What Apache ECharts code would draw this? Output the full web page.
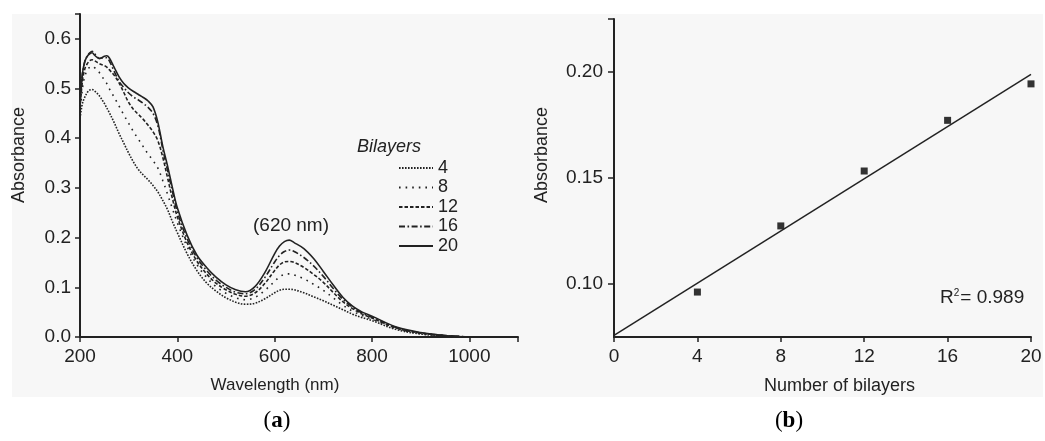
<!DOCTYPE html>
<html>
<head>
<meta charset="utf-8">
<script src="https://cdn.jsdelivr.net/npm/echarts@6/dist/echarts.min.js"></script>
<style>html,body{margin:0;padding:0;background:#fff}#c{width:1045px;height:441px}</style>
</head>
<body>
<div id="c"></div>
<script>
// ---------- Data ----------
const wavelength = [200,205,210,215,220,225,230,240,250,255,260,270,280,290,300,310,320,330,340,350,360,370,380,390,400,420,440,460,480,500,520,540,560,580,600,610,620,630,640,660,680,700,720,740,760,780,800,850,900,950,1000];
const abs4  = [0.44,0.47,0.483,0.492,0.497,0.498,0.495,0.485,0.47,0.461,0.452,0.432,0.41,0.39,0.37,0.352,0.337,0.326,0.316,0.305,0.292,0.275,0.256,0.232,0.21,0.168,0.134,0.109,0.092,0.079,0.07,0.066,0.068,0.077,0.089,0.094,0.096,0.096,0.095,0.089,0.081,0.073,0.064,0.055,0.046,0.039,0.033,0.015,0.006,0.002,0.0];
const abs8  = [0.45,0.5,0.525,0.537,0.543,0.545,0.542,0.532,0.517,0.51,0.5,0.483,0.465,0.447,0.43,0.413,0.398,0.383,0.368,0.355,0.34,0.315,0.287,0.258,0.23,0.182,0.146,0.12,0.101,0.088,0.079,0.075,0.08,0.094,0.112,0.121,0.126,0.127,0.125,0.117,0.106,0.094,0.079,0.064,0.052,0.043,0.036,0.017,0.007,0.002,0.0];
const abs12 = [0.46,0.515,0.54,0.55,0.556,0.558,0.556,0.55,0.546,0.543,0.538,0.527,0.512,0.492,0.472,0.458,0.448,0.438,0.426,0.413,0.395,0.362,0.32,0.278,0.242,0.19,0.153,0.127,0.108,0.095,0.086,0.082,0.089,0.108,0.134,0.145,0.151,0.152,0.15,0.14,0.126,0.11,0.09,0.071,0.057,0.046,0.038,0.018,0.008,0.003,0.0];
const abs16 = [0.47,0.53,0.555,0.566,0.572,0.575,0.57,0.561,0.562,0.562,0.556,0.535,0.515,0.502,0.491,0.483,0.477,0.47,0.462,0.45,0.425,0.378,0.335,0.292,0.252,0.198,0.16,0.134,0.114,0.1,0.09,0.087,0.096,0.12,0.151,0.164,0.172,0.175,0.172,0.16,0.143,0.122,0.098,0.076,0.06,0.048,0.04,0.019,0.008,0.003,0.0];
const abs20 = [0.47,0.53,0.555,0.565,0.57,0.572,0.567,0.56,0.565,0.566,0.562,0.543,0.524,0.51,0.501,0.494,0.488,0.482,0.475,0.463,0.432,0.384,0.344,0.3,0.26,0.205,0.165,0.14,0.12,0.105,0.095,0.091,0.102,0.13,0.168,0.183,0.192,0.195,0.19,0.178,0.158,0.132,0.105,0.08,0.062,0.05,0.042,0.02,0.009,0.003,0.0];
const bilayerNames = ['4','8','12','16','20'];

const bilayers = [4,8,12,16,20];
const peakAbs = [0.0962,0.1274,0.1533,0.1772,0.1944];
const fitX = [0,20];
const fitY = [0.0758,0.1989];

const leftXTicks = [200,400,600,800,1000];
const leftYTicks = [0,0.1,0.2,0.3,0.4,0.5,0.6];
const rightYTicks = [0.10,0.15,0.20];

// ---------- Chart ----------
const FONT = 'Liberation Sans, Arial, sans-serif';
const INK = '#222';
const chart = echarts.init(document.getElementById('c'), null, {renderer:'canvas'});
const spectra = [abs4,abs8,abs12,abs16,abs20];
const dashes = [[1.6,1.4],[1.6,5],[3.5,2],[6,2.5,1.6,2.5],'solid'];

function zip(xs, ys){ return xs.map((x,i)=>[x,ys[i]]); }

const axisLine = {show:true, onZero:false, lineStyle:{color:INK, width:2}};
const labelStyle = {color:INK, fontFamily:FONT, fontSize:19};

const series = spectra.map((arr,i)=>({
  name: bilayerNames[i], type:'line', xAxisIndex:0, yAxisIndex:0,
  data: zip(wavelength, arr), showSymbol:false, symbol:'none', smooth:0.35,
  lineStyle:{color:INK, width:1.6, type:dashes[i]}, itemStyle:{color:INK},
  silent:true, animation:false
}));
series.push({
  type:'scatter', xAxisIndex:1, yAxisIndex:1, data: zip(bilayers, peakAbs),
  symbol:'rect', symbolSize:7, itemStyle:{color:'#000'}, animation:false, silent:true
});
series.push({
  type:'line', xAxisIndex:1, yAxisIndex:1, data: zip(fitX, fitY), showSymbol:false, symbol:'none',
  lineStyle:{color:INK, width:1.5}, animation:false, silent:true
});

chart.setOption({
  backgroundColor:'#ffffff',
  animation:false,
  grid:[
    {left:80, top:14, width:438, height:323},
    {left:614, top:19, width:417, height:318}
  ],
  legend:{
    data: bilayerNames, orient:'vertical', left:393, top:154,
    itemWidth:34, itemHeight:10, itemGap:1.5,
    itemStyle:{opacity:0},
    textStyle:{color:INK, fontFamily:FONT, fontSize:18, lineHeight:18},
    selectedMode:false
  },
  xAxis:[
    {type:'value', gridIndex:0, min:200, max:1100,
     axisLine:axisLine, splitLine:{show:false},
     axisTick:{show:true, inside:false, length:5, lineStyle:{color:INK,width:1.5}, customValues:[200,400,600,800,1000,1100]},
     axisLabel:Object.assign({margin:10, customValues:leftXTicks, formatter:v=>String(v)}, labelStyle),
     name:'Wavelength (nm)', nameLocation:'middle', nameGap:40,
     nameTextStyle:{color:INK, fontFamily:FONT, fontSize:17, padding:[0,48,0,0]}
    },
    {type:'value', gridIndex:1, min:0, max:20, interval:4,
     axisLine:axisLine, splitLine:{show:false},
     axisTick:{show:true, inside:false, length:5, lineStyle:{color:INK,width:1.5}},
     axisLabel:Object.assign({margin:10}, labelStyle),
     name:'Number of bilayers', nameLocation:'middle', nameGap:40,
     nameTextStyle:{color:INK, fontFamily:FONT, fontSize:18, padding:[0,0,0,34]}
    }
  ],
  yAxis:[
    {type:'value', gridIndex:0, min:0, max:0.65,
     axisLine:axisLine, splitLine:{show:false},
     axisTick:{show:true, inside:false, length:5, lineStyle:{color:INK,width:1.5}, customValues:[0,0.1,0.2,0.3,0.4,0.5,0.6,0.65]},
     axisLabel:Object.assign({margin:9, customValues:leftYTicks, formatter:v=>v.toFixed(1)}, labelStyle)
    },
    {type:'value', gridIndex:1, min:0.075, max:0.225,
     axisLine:axisLine, splitLine:{show:false},
     axisTick:{show:true, inside:false, length:6, lineStyle:{color:INK,width:1.5}, customValues:[0.10,0.15,0.20,0.225]},
     axisLabel:Object.assign({margin:11, customValues:rightYTicks, formatter:v=>v.toFixed(2)}, labelStyle)
    }
  ],
  graphic:[
    {type:'rect', z:-10, shape:{x:12, y:14, width:1031, height:383}, style:{fill:'#f7f7f7'}, silent:true},
    {type:'text', x:19, y:155, rotation:Math.PI/2, style:{text:'Absorbance', fill:INK, font:'18px '+FONT, align:'center', verticalAlign:'middle'}},
    {type:'text', x:542, y:155, rotation:Math.PI/2, style:{text:'Absorbance', fill:INK, font:'18px '+FONT, align:'center', verticalAlign:'middle'}},
    {type:'text', x:357, y:147, style:{text:'Bilayers', fill:INK, font:'italic 18px '+FONT, align:'left', verticalAlign:'middle'}},
    {type:'text', x:291, y:226, style:{text:'(620 nm)', fill:INK, font:'19px '+FONT, align:'center', verticalAlign:'middle'}},
    {type:'text', x:940, y:298, style:{
      text:'{r|R}{s|2}{r|= 0.989}', align:'left', verticalAlign:'middle',
      rich:{r:{fill:INK, fontFamily:FONT, fontSize:19}, s:{fill:INK, fontFamily:FONT, fontSize:10, verticalAlign:'top', padding:[0,1,10,0]}}
    }},
    {type:'text', x:277, y:421, style:{
      text:'{p|(}{b|a}{p|)}', align:'center', verticalAlign:'middle',
      rich:{p:{fill:'#000', fontFamily:'Liberation Serif, Times New Roman, serif', fontSize:23}, b:{fill:'#000', fontFamily:'Liberation Serif, Times New Roman, serif', fontSize:23, fontWeight:'bold'}}
    }},
    {type:'text', x:789, y:421, style:{
      text:'{p|(}{b|b}{p|)}', align:'center', verticalAlign:'middle',
      rich:{p:{fill:'#000', fontFamily:'Liberation Serif, Times New Roman, serif', fontSize:23}, b:{fill:'#000', fontFamily:'Liberation Serif, Times New Roman, serif', fontSize:23, fontWeight:'bold'}}
    }}
  ],
  series: series
});
</script>
</body>
</html>
